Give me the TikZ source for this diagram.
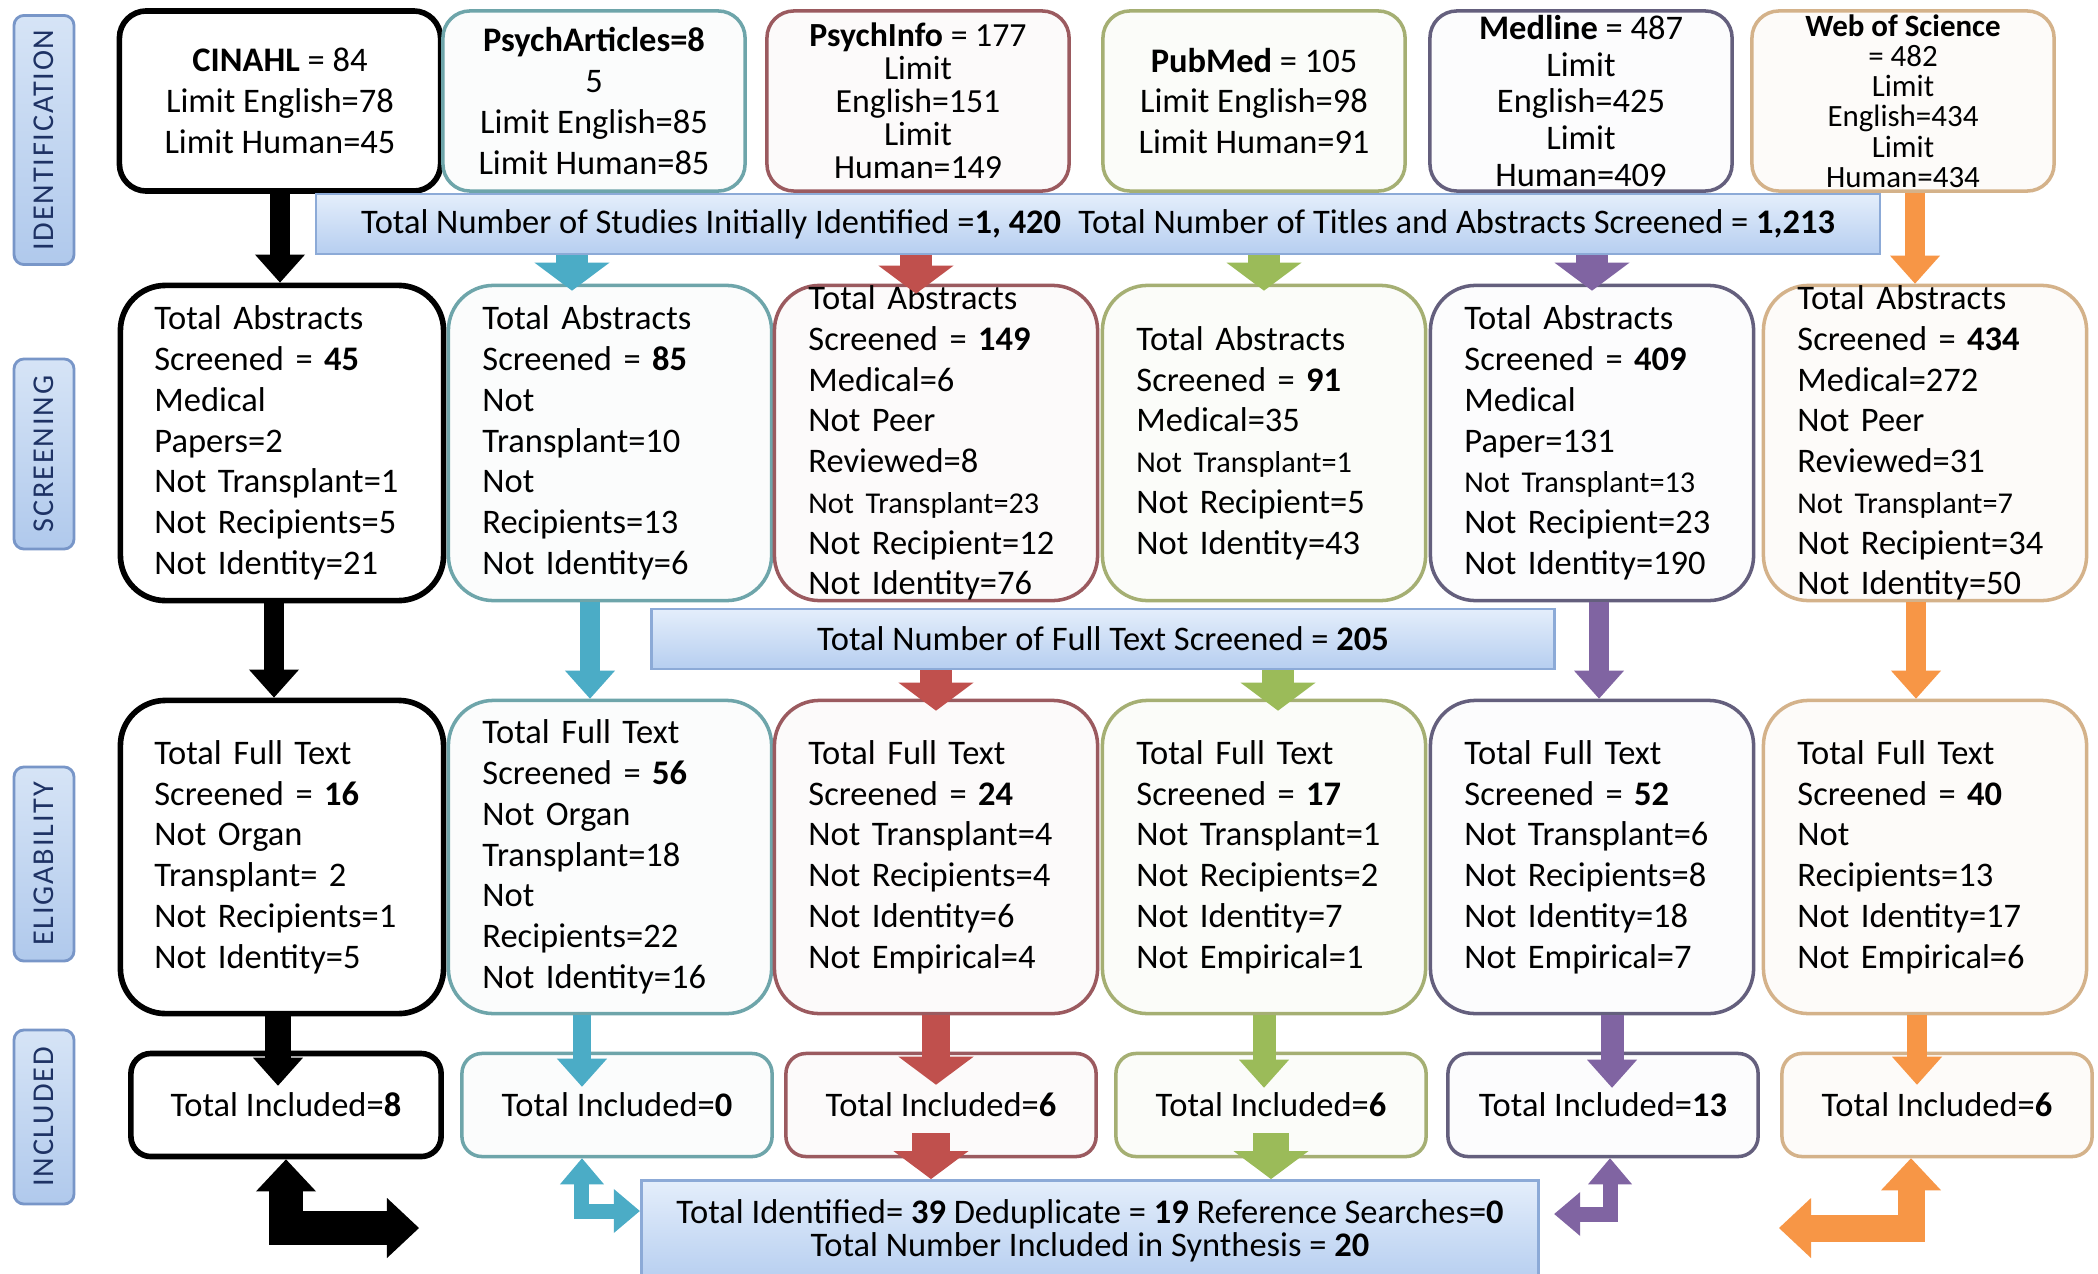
\documentclass[tikz,border=0pt]{standalone}
\usepackage{fontspec}
\setmainfont{Carlito}
\usepackage{tikz}
\usetikzlibrary{arrows.meta,shapes}
\definecolor{tealarr}{RGB}{75,172,198}
\definecolor{redarr}{RGB}{192,80,77}
\definecolor{greenarr}{RGB}{155,187,89}
\definecolor{purplearr}{RGB}{128,100,162}
\definecolor{orangearr}{RGB}{247,150,70}
\definecolor{tealbd}{RGB}{110,165,170}
\definecolor{redbd}{RGB}{155,90,95}
\definecolor{greenbd}{RGB}{165,175,115}
\definecolor{purplebd}{RGB}{100,95,125}
\definecolor{orangebd}{RGB}{212,178,138}
\definecolor{bannertop}{RGB}{228,238,251}
\definecolor{bannerbot}{RGB}{182,206,240}
\definecolor{bannerbd}{RGB}{140,170,215}
\definecolor{stagetop}{RGB}{214,228,246}
\definecolor{stagebot}{RGB}{176,201,236}
\definecolor{stagebd}{RGB}{120,150,200}
\definecolor{stagetext}{RGB}{30,50,100}
\newcommand{\boxfont}{\fontsize{9.8}{11.6}\selectfont}
\newcommand{\smallfont}{\fontsize{8.6}{11.6}\selectfont}
\newcommand{\stagefont}{\fontsize{8.6}{10}\selectfont\addfontfeature{LetterSpace=6}}
\lineskiplimit=-20pt
\tikzstyle{stage}=[rectangle,rounded corners=0.1cm,draw=stagebd,line width=0.8pt,top color=stagetop,bottom color=stagebot,rotate=90,minimum height=0.6cm,inner sep=0pt,text=stagetext,font=\stagefont]
\tikzstyle{source}=[rectangle,rounded corners=0.27cm,minimum width=3.02cm,minimum height=1.8cm,inner sep=0pt,align=center,font=\boxfont]
\tikzstyle{count box}=[rectangle,rounded corners=0.45cm,text width=2.55cm,inner xsep=0.34cm,inner ysep=0pt,align=left,font=\boxfont]
\tikzstyle{result}=[rectangle,rounded corners=0.2cm,minimum width=3.1cm,minimum height=1.03cm,inner sep=0pt,font=\boxfont]
\tikzstyle{banner}=[rectangle,draw=bannerbd,line width=0.8pt,top color=bannertop,bottom color=bannerbot,minimum height=0.6cm,inner sep=0pt,font=\boxfont]
\tikzstyle{black col}=[draw=black,line width=1.6pt,fill=white]
\tikzstyle{teal col}=[draw=tealbd,line width=1pt,fill=tealbd!3]
\tikzstyle{red col}=[draw=redbd,line width=1pt,fill=redbd!3]
\tikzstyle{green col}=[draw=greenbd,line width=1pt,fill=greenbd!4]
\tikzstyle{purple col}=[draw=purplebd,line width=1pt,fill=purplearr!2]
\tikzstyle{orange col}=[draw=orangebd,line width=1pt,fill=orangebd!5]
\tikzstyle{thin arrow}=[line width=0.2cm,-{Triangle[width=0.5cm,length=0.28cm,line width=0pt]}]
\tikzstyle{chunky arrow}=[line width=0.32cm,-{Triangle[width=0.75cm,length=0.28cm,line width=0pt]}]
\tikzstyle{return arrow}=[line width=0.3cm,line join=miter,{Triangle[width=0.6cm,length=0.32cm,line width=0pt]}-{Triangle[width=0.6cm,length=0.32cm,line width=0pt]}]
\tikzstyle{small return arrow}=[line width=0.15cm,line join=miter,{Triangle[width=0.44cm,length=0.26cm,line width=0pt]}-{Triangle[width=0.44cm,length=0.26cm,line width=0pt]}]

\begin{document}
\begin{tikzpicture}[x=0.01cm,y=-0.01cm]
        \fill[white] (0,0) rectangle (2098,1273);
        \useasboundingbox (0,0) rectangle (2098,1273);
        % stages
        \node[stage,minimum width=2.49cm] (identification) at (44,140) {IDENTIFICATION};
        \node[stage,minimum width=1.9cm] (screening) at (44,454) {SCREENING};
        \node[stage,minimum width=1.94cm] (eligability) at (44,864) {ELIGABILITY};
        \node[stage,minimum width=1.74cm] (included) at (44,1117) {INCLUDED};
        % databases
        \node[source,black col,minimum width=3.21cm] (cinahl) at (280,101) {\textbf{CINAHL} = 84\\Limit English=78\\Limit Human=45};
        \node[source,teal col] (psycharticles) at (594,101) {\textbf{PsychArticles=8}\\5\\Limit English=85\\Limit Human=85};
        \node[source,red col,font=\fontsize{9.6}{9.4}\selectfont] (psychinfo) at (918,101) {\textbf{PsychInfo} = 177\\Limit\\English=151\\Limit\\Human=149};
        \node[source,green col] (pubmed) at (1254,101) {\textbf{PubMed} = 105\\Limit English=98\\Limit Human=91};
        \node[source,purple col,font=\fontsize{9.8}{10.4}\selectfont] (medline) at (1581,101) {\textbf{Medline} = 487\\Limit\\English=425\\Limit\\Human=409};
        \node[source,orange col,font=\fontsize{8.8}{8.6}\selectfont] (wos) at (1903,101) {\textbf{Web of Science}\\= 482\\Limit\\English=434\\Limit\\Human=434};
        \node[banner,minimum width=15.63cm] (titles) at (1098,224) {Total Number of Studies Initially Identified =\textbf{1, 420}\enspace Total Number of Titles and Abstracts Screened = \textbf{1,213}};
        % abstracts
        \node[count box,black col,minimum height=3.15cm] (s1) at (282,443) {Total Abstracts\\Screened = \textbf{45}\\Medical\\Papers=2\\Not Transplant=1\\Not Recipients=5\\Not Identity=21};
        \node[count box,teal col,minimum height=3.15cm] (s2) at (610,443) {Total Abstracts\\Screened = \textbf{85}\\Not\\Transplant=10\\Not\\Recipients=13\\Not Identity=6};
        \node[count box,red col,minimum height=3.15cm] (s3) at (936,443) {Total Abstracts\\Screened = \textbf{149}\\Medical=6\\Not Peer\\Reviewed=8\\{\smallfont Not Transplant=23}\\Not Recipient=12\\Not Identity=76};
        \node[count box,green col,minimum height=3.15cm] (s4) at (1264,443) {Total Abstracts\\Screened = \textbf{91}\\Medical=35\\{\smallfont Not Transplant=1}\\Not Recipient=5\\Not Identity=43};
        \node[count box,purple col,minimum height=3.15cm] (s5) at (1592,443) {Total Abstracts\\Screened = \textbf{409}\\Medical\\Paper=131\\{\smallfont Not Transplant=13}\\Not Recipient=23\\Not Identity=190};
        \node[count box,orange col,minimum height=3.15cm] (s6) at (1925,443) {Total Abstracts\\Screened = \textbf{434}\\Medical=272\\Not Peer\\Reviewed=31\\{\smallfont Not Transplant=7}\\Not Recipient=34\\Not Identity=50};
        \node[banner,minimum width=9.03cm] (fulltext) at (1103,639) {Total Number of Full Text Screened = \textbf{205}};
        % full texts
        \node[count box,black col,minimum height=3.13cm] (e1) at (282,857) {Total Full Text\\Screened = \textbf{16}\\Not Organ\\Transplant= 2\\Not Recipients=1\\Not Identity=5};
        \node[count box,teal col,minimum height=3.13cm] (e2) at (610,857) {Total Full Text\\Screened = \textbf{56}\\Not Organ\\Transplant=18\\Not\\Recipients=22\\Not Identity=16};
        \node[count box,red col,minimum height=3.13cm] (e3) at (936,857) {Total Full Text\\Screened = \textbf{24}\\Not Transplant=4\\Not Recipients=4\\Not Identity=6\\Not Empirical=4};
        \node[count box,green col,minimum height=3.13cm] (e4) at (1264,857) {Total Full Text\\Screened = \textbf{17}\\Not Transplant=1\\Not Recipients=2\\Not Identity=7\\Not Empirical=1};
        \node[count box,purple col,minimum height=3.13cm] (e5) at (1592,857) {Total Full Text\\Screened = \textbf{52}\\Not Transplant=6\\Not Recipients=8\\Not Identity=18\\Not Empirical=7};
        \node[count box,orange col,minimum height=3.13cm] (e6) at (1925,857) {Total Full Text\\Screened = \textbf{40}\\Not\\Recipients=13\\Not Identity=17\\Not Empirical=6};
        % included
        \node[result,black col] (i1) at (286,1105) {Total Included=\textbf{8}};
        \node[result,teal col] (i2) at (617,1105) {Total Included=\textbf{0}};
        \node[result,red col] (i3) at (941,1105) {Total Included=\textbf{6}};
        \node[result,green col] (i4) at (1271,1105) {Total Included=\textbf{6}};
        \node[result,purple col] (i5) at (1603,1105) {Total Included=\textbf{13}};
        \node[result,orange col] (i6) at (1937,1105) {Total Included=\textbf{6}};
        \node[banner,minimum width=8.97cm,minimum height=1.01cm,align=center,font=\fontsize{9.8}{9.4}\selectfont] (synthesis) at (1090,1231) {Total Identified= \textbf{39} Deduplicate = \textbf{19} Reference Searches=\textbf{0}\\Total Number Included in Synthesis = \textbf{20}};
        \coordinate (blackend) at (419,1228);
        \coordinate (orangeend) at (1779,1228);
        % identification to screening
        \draw[thin arrow,black] (cinahl.south) -- (cinahl.south |- s1.north);
        \draw[thin arrow,orangearr] ([xshift=0.12cm]wos.south) -- ([xshift=0.12cm]wos.south |- s6.north);
        \draw[chunky arrow,tealarr] ([xshift=-0.38cm]s2.north |- titles.south) -- ([xshift=-0.38cm,yshift=-0.07cm]s2.north);
        \draw[chunky arrow,redarr] ([xshift=-0.2cm]s3.north |- titles.south) -- ([xshift=-0.2cm,yshift=-0.1cm]s3.north);
        \draw[chunky arrow,greenarr] (s4.north |- titles.south) -- ([yshift=-0.07cm]s4.north);
        \draw[chunky arrow,purplearr] (s5.north |- titles.south) -- ([yshift=-0.07cm]s5.north);
        % screening to eligibility
        \draw[thin arrow,black] ([xshift=-0.08cm]s1.south) -- ([xshift=-0.08cm]e1.north);
        \draw[thin arrow,tealarr] ([xshift=-0.2cm]s2.south) -- ([xshift=-0.2cm]e2.north);
        \draw[chunky arrow,redarr] (e3.north |- fulltext.south) -- ([yshift=-0.12cm]e3.north);
        \draw[chunky arrow,greenarr] ([xshift=0.14cm]e4.north |- fulltext.south) -- ([xshift=0.14cm,yshift=-0.12cm]e4.north);
        \draw[thin arrow,purplearr] ([xshift=0.07cm]s5.south) -- ([xshift=0.07cm]e5.north);
        \draw[thin arrow,orangearr] ([xshift=-0.09cm]s6.south) -- ([xshift=-0.09cm]e6.north);
        % eligibility to included
        \draw[thin arrow,black,line width=0.26cm] ([xshift=-0.04cm]e1.south) -- ([xshift=-0.04cm,yshift=-0.35cm]e1.south |- i1.north);
        \draw[thin arrow,tealarr,line width=0.17cm] ([xshift=-0.28cm]e2.south) -- ([xshift=-0.28cm,yshift=-0.35cm]e2.south |- i2.north);
        \draw[chunky arrow,redarr,line width=0.28cm] (e3.south) -- ([yshift=-0.33cm]e3.south |- i3.north);
        \draw[thin arrow,greenarr,line width=0.23cm] (e4.south) -- ([yshift=-0.36cm]e4.south |- i4.north);
        \draw[thin arrow,purplearr,line width=0.23cm] ([xshift=0.2cm]e5.south) -- ([xshift=0.2cm,yshift=-0.36cm]e5.south |- i5.north);
        \draw[thin arrow,orangearr] ([xshift=-0.08cm]e6.south) -- ([xshift=-0.08cm,yshift=-0.33cm]e6.south |- i6.north);
        % included to synthesis
        \draw[chunky arrow,redarr,line width=0.38cm] ([xshift=-0.1cm,yshift=0.25cm]i3.south) -- ([xshift=-0.1cm]i3.south |- synthesis.north);
        \draw[chunky arrow,greenarr,line width=0.36cm] ([yshift=0.25cm]i4.south) -- (i4.south |- synthesis.north);
        \draw[return arrow,black,line width=0.34cm] (i1.south) |- (blackend);
        \draw[small return arrow,tealarr] ([xshift=-0.35cm]i2.south) |- ([yshift=0.2cm]synthesis.west);
        \draw[small return arrow,purplearr] ([xshift=0.07cm]i5.south) |- ([xshift=0.14cm,yshift=0.17cm]synthesis.east);
        \draw[return arrow,orangearr,line width=0.27cm] ([xshift=-0.26cm]i6.south) |- (orangeend);
      \end{tikzpicture}
\end{document}
